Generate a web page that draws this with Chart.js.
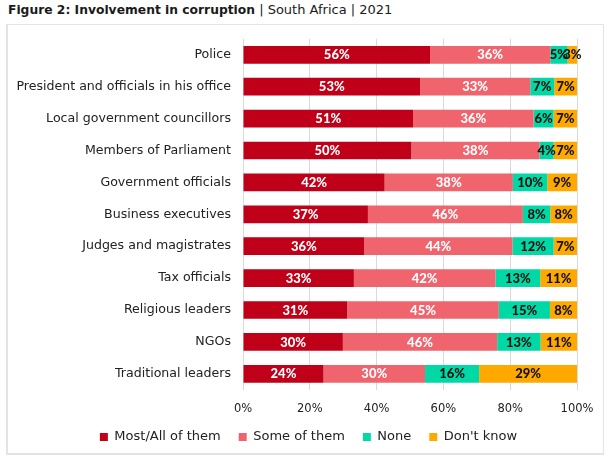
<!DOCTYPE html>
<html>
<head>
<meta charset="utf-8">
<script src="https://cdn.jsdelivr.net/npm/chart.js@4"></script>
<style>
  html, body { margin: 0; padding: 0; background: #ffffff; }
  body { width: 616px; height: 458px; position: relative; overflow: hidden; }
  #title { position: absolute; left: 8px; top: 0px; line-height: 18px; white-space: nowrap;
           font-family: "DejaVu Sans", sans-serif; color: #1a1a1a; }
  #title b { font-size: 12.3px; font-weight: bold; }
  #title span { font-size: 13px; }
  #frame { position: absolute; left: 6px; top: 24px; width: 595px; height: 428px;
           border: 2px solid #e4e4e4; border-top-width: 1px; border-right-width: 1px; }
  #wrap { position: absolute; left: 0; top: 0; width: 616px; height: 458px; }
</style>
</head>
<body>
<div id="title"><b>Figure 2: Involvement in corruption</b><span> | South Africa | 2021</span></div>
<div id="frame"></div>
<div id="wrap"><canvas id="c" width="616" height="458"></canvas></div>
<script>
const categories = [
  "Police",
  "President and officials in his office",
  "Local government councillors",
  "Members of Parliament",
  "Government officials",
  "Business executives",
  "Judges and magistrates",
  "Tax officials",
  "Religious leaders",
  "NGOs",
  "Traditional leaders"
];
const seriesNames = ["Most/All of them", "Some of them", "None", "Don't know"];
const mostAll    = [56.0, 53.0, 50.9, 50.4, 42.4, 37.4, 36.3, 33.2, 31.2, 29.9, 24.1];
const someOfThem = [36.0, 33.0, 36.1, 38.4, 38.4, 46.4, 44.4, 42.4, 45.4, 46.2, 30.4];
const noneVals   = [5.2, 7.2, 6.0, 4.2, 10.3, 8.2, 12.3, 13.4, 15.3, 13.0, 16.2];
const dontKnow   = [2.8, 6.8, 7.0, 7.0, 8.9, 8.0, 7.0, 11.0, 8.1, 10.9, 29.3];
const xTickStep = 20;

const colors = ["#C00018", "#F0646E", "#00D9A6", "#FFA800"];
const labelColors = ["#ffffff", "#ffffff", "#111111", "#111111"];

const barLabels = {
  id: "barLabels",
  afterLayout(chart) {
    // shift the bottom legend so it sits centred like the reference
    if (chart.legend) { chart.legend.left += 20; chart.legend.right += 20; }
  },
  afterDatasetsDraw(chart) {
    const ctx = chart.ctx;
    ctx.save();
    ctx.font = "900 13px Lato, 'DejaVu Sans', sans-serif";
    ctx.textAlign = "center";
    ctx.textBaseline = "middle";
    chart.data.datasets.forEach((ds, i) => {
      const meta = chart.getDatasetMeta(i);
      meta.data.forEach((bar, j) => {
        const p = bar.getProps(["x", "y", "base"], true);
        ctx.fillStyle = labelColors[i];
        ctx.fillText(Math.round(ds.data[j]) + "%", (p.x + p.base) / 2, p.y + 0.5);
      });
    });
    ctx.restore();
  }
};

const seriesData = [mostAll, someOfThem, noneVals, dontKnow];

new Chart(document.getElementById("c"), {
  type: "bar",
  data: {
    labels: categories,
    datasets: seriesData.map((d, i) => ({
      label: seriesNames[i],
      data: d,
      backgroundColor: colors[i],
      borderWidth: 0,
      barPercentage: 0.555,
      categoryPercentage: 1.0
    }))
  },
  options: {
    indexAxis: "y",
    responsive: false,
    animation: false,
    devicePixelRatio: 1,
    layout: { padding: { top: 38.85, left: 0, right: 39, bottom: 4.5 } },
    scales: {
      x: {
        stacked: true,
        min: 0,
        max: 100,
        ticks: {
          stepSize: xTickStep,
          padding: 12,
          color: "#222222",
          font: { family: "'DejaVu Sans', sans-serif", size: 11.5 },
          callback: (v) => v + "%"
        },
        grid: { color: "#d9d9d9", lineWidth: 1, drawTicks: false },
        border: { display: false },
        afterFit(s) { s.height = 22.75; }
      },
      y: {
        stacked: true,
        ticks: {
          padding: 12,
          color: "#222222",
          font: { family: "'DejaVu Sans', sans-serif", size: 12.6 }
        },
        grid: { display: false, drawTicks: false },
        border: { display: false },
        afterFit(s) { s.width = 243; }
      }
    },
    plugins: {
      legend: {
        position: "bottom",
        labels: {
          boxWidth: 8,
          boxHeight: 8,
          padding: 18,
          color: "#222222",
          font: { family: "'DejaVu Sans', sans-serif", size: 13 }
        }
      },
      tooltip: { enabled: false }
    }
  },
  plugins: [barLabels]
});
</script>
</body>
</html>
